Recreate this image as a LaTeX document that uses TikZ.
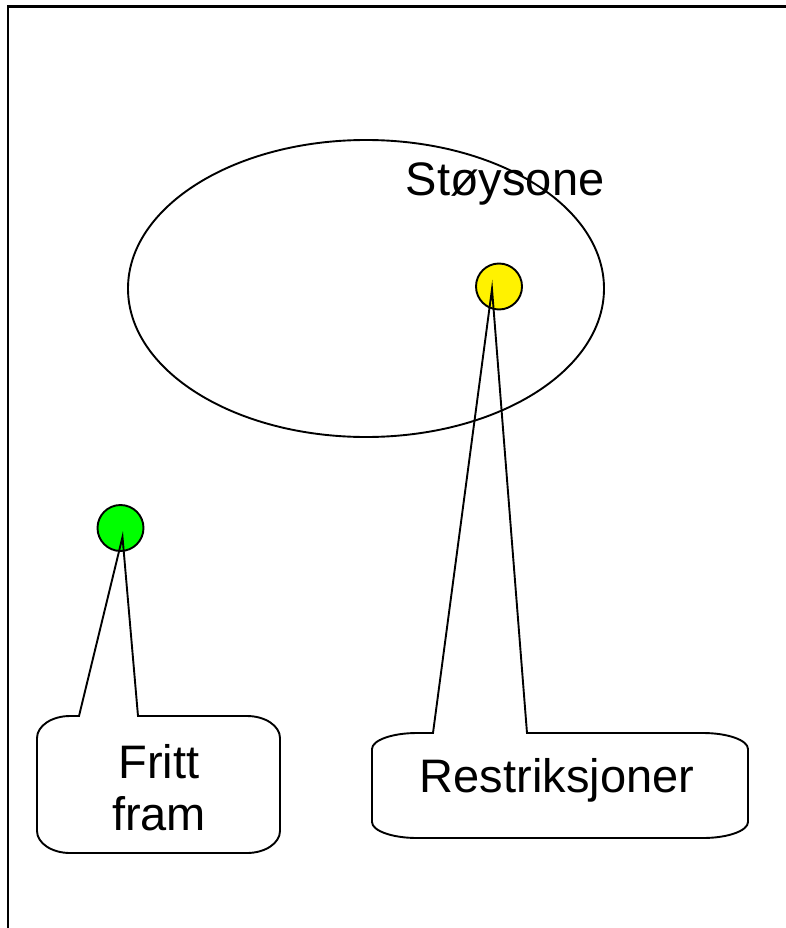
\documentclass[tikz,border=0pt]{standalone}
\usepackage{fontspec}
\setmainfont{Liberation Sans}
\usetikzlibrary{shapes.geometric}
\begin{document}
\begin{tikzpicture}[x=1pt,y=-1pt,
  shape line/.style={line width=1.9pt, draw=black},
  dot/.style={circle, draw=black, line width=1.9pt, minimum size=46pt, inner sep=0pt},
  label text/.style={font=\fontsize{47}{52}\selectfont, inner sep=0pt}]
\useasboundingbox (0,0) rectangle (785,928);
% frame
\draw[line width=2.8pt] (8,930) -- (8,6.5) -- (787,6.5);
% noise zone
\node[ellipse, shape line, minimum width=476pt, minimum height=297pt, inner sep=0pt] (zone) at (366,288.5) {};
\node[label text, anchor=base] (stoy) at (505,195) {Støysone};
% dots
\node[dot, fill=yellow] (yel) at (499,286.5) {};
\node[dot, fill={rgb,255:red,0;green,255;blue,0}] (grn) at (120.5,528) {};
\coordinate (ytip) at ([shift={(-7,2.5)}]yel.center);
\coordinate (gtip) at ([shift={(2,9)}]grn.center);
% callout Restriksjoner
\coordinate (rb1) at (433,733);
\coordinate (rb2) at (527,733);
\draw[shape line, line join=miter] (rb1) -- (ytip) -- (rb2) -- (703,733)
  .. controls (727.8,733) and (748,740.2) .. (748,749) -- (748,822)
  .. controls (748,830.8) and (727.8,838) .. (703,838) -- (417,838)
  .. controls (392.2,838) and (372,830.8) .. (372,822) -- (372,749)
  .. controls (372,740.2) and (392.2,733) .. (417,733) -- cycle;
\node[label text, anchor=base] (restr) at (557,792) {Restriksjoner};
% callout Fritt fram
\coordinate (fb1) at (79,716);
\coordinate (fb2) at (138,716);
\draw[shape line, line join=miter] (fb1) -- (gtip) -- (fb2) -- (247,716)
  .. controls (265.2,716) and (280,725.9) .. (280,738) -- (280,831)
  .. controls (280,843.1) and (265.2,853) .. (247,853) -- (70,853)
  .. controls (51.8,853) and (37,843.1) .. (37,831) -- (37,738)
  .. controls (37,725.9) and (51.8,716) .. (70,716) -- cycle;
\node[label text, align=center] (fritt) at (159,788) {Fritt\\fram};
\end{tikzpicture}
\end{document}
